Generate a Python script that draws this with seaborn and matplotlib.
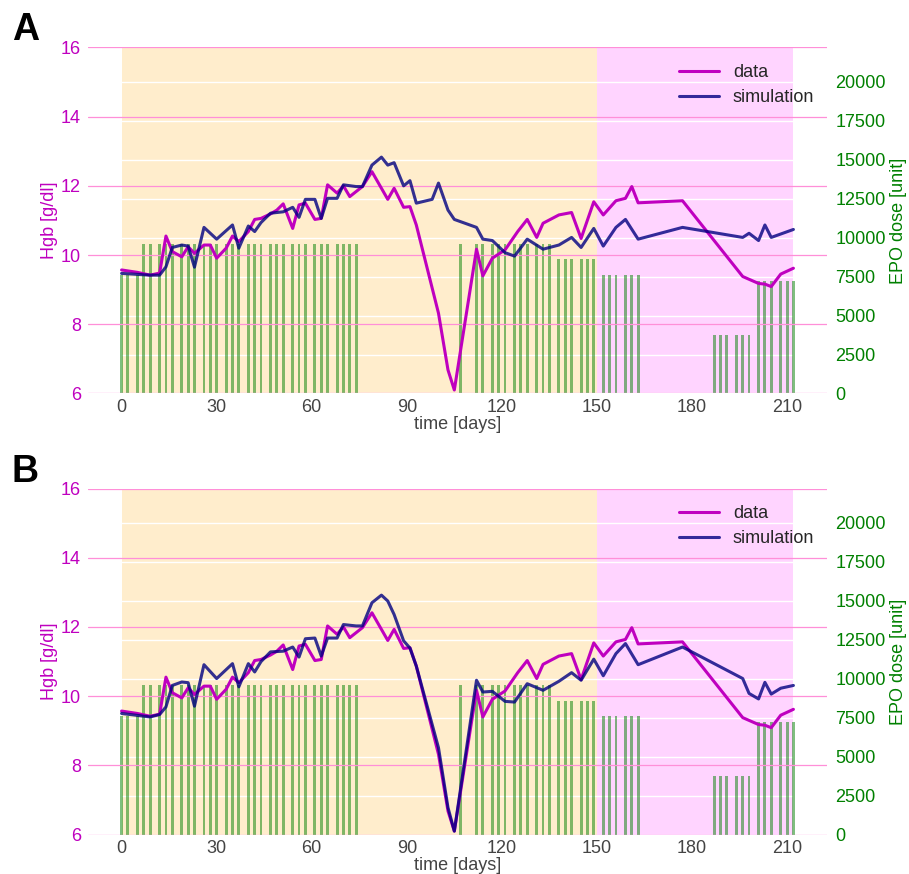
import matplotlib
matplotlib.use("Agg")
import matplotlib.pyplot as plt
import seaborn as sns
import pandas as pd

# Measured hemoglobin (g/dl) by day
data_days = [0, 5, 9, 12, 14, 16, 19, 21, 23, 26, 28, 30, 33, 35, 37, 40, 42, 44, 47, 49,
             51, 54, 56, 58, 61, 63, 65, 68, 70, 72, 76, 79, 84, 86, 89, 91, 93, 100, 103,
             105, 112, 114, 117, 121, 125, 128, 131, 133, 138, 142, 145, 149, 152, 156, 159,
             161, 163, 177, 196, 201, 203, 205, 208, 212]
data_hgb = [9.57, 9.50, 9.42, 9.48, 10.55, 10.10, 9.95, 10.24, 10.05, 10.29, 10.29, 9.91,
            10.20, 10.55, 10.39, 10.68, 11.03, 11.06, 11.19, 11.30, 11.48, 10.77, 11.45,
            11.50, 11.03, 11.06, 12.03, 11.79, 12.00, 11.69, 11.98, 12.41, 11.61, 11.93,
            11.38, 11.40, 10.87, 8.32, 6.68, 6.10, 10.17, 9.40, 9.91, 10.15, 10.68, 11.03,
            10.51, 10.92, 11.16, 11.23, 10.48, 11.54, 11.16, 11.57, 11.64, 11.98, 11.51,
            11.57, 9.38, 9.18, 9.16, 9.09, 9.45, 9.62]

# Simulated hemoglobin, model A
sim_a_days = [0, 9, 12, 14, 16, 19, 21, 23, 26, 30, 35, 37, 40, 42, 44, 47, 51, 54, 56, 58,
              61, 63, 65, 68, 70, 74, 76, 79, 82, 84, 86, 89, 91, 93, 98, 100, 103, 105, 112,
              114, 117, 121, 124, 128, 133, 138, 142, 145, 149, 152, 156, 159, 163, 177, 196,
              198, 201, 203, 205, 212]
sim_a_hgb = [9.47, 9.42, 9.42, 9.66, 10.22, 10.29, 10.26, 9.65, 10.80, 10.46, 10.87, 10.20,
             10.84, 10.68, 10.94, 11.21, 11.25, 11.38, 11.09, 11.61, 11.61, 11.06, 11.64,
             11.64, 12.03, 11.98, 11.98, 12.60, 12.83, 12.60, 12.67, 12.00, 12.15, 11.50,
             11.61, 12.08, 11.30, 11.03, 10.80, 10.46, 10.42, 10.07, 9.97, 10.46, 10.17,
             10.29, 10.51, 10.22, 10.77, 10.26, 10.80, 11.03, 10.46, 10.80, 10.51, 10.63,
             10.42, 10.87, 10.51, 10.74]

# Simulated hemoglobin, model B
sim_b_days = [0, 9, 12, 14, 16, 19, 21, 23, 26, 30, 35, 37, 40, 42, 44, 47, 51, 54, 56, 58,
              61, 63, 65, 68, 70, 74, 76, 79, 82, 84, 86, 89, 91, 93, 100, 103, 105, 112,
              114, 117, 121, 124, 128, 133, 138, 142, 145, 149, 152, 156, 159, 163, 177, 196,
              198, 201, 203, 205, 208, 212]
sim_b_hgb = [9.50, 9.40, 9.47, 9.69, 10.31, 10.41, 10.39, 9.71, 10.91, 10.51, 10.94, 10.27,
             10.94, 10.70, 11.00, 11.28, 11.30, 11.42, 11.13, 11.66, 11.68, 11.16, 11.68,
             11.68, 12.07, 12.03, 12.03, 12.70, 12.92, 12.75, 12.36, 11.60, 11.39, 10.87,
             8.51, 6.78, 6.10, 10.46, 10.12, 10.14, 9.85, 9.83, 10.36, 10.17, 10.43, 10.68,
             10.46, 11.07, 10.59, 11.23, 11.52, 10.91, 11.42, 10.51, 10.08, 9.92, 10.40,
             10.06, 10.23, 10.31]

# EPO doses (units) by administration day
dose_days = [0, 2, 5, 7, 9, 12, 14, 16, 19, 21, 23, 26, 28, 30, 33, 35, 37, 40, 42, 44, 47,
             49, 51, 54, 56, 58, 61, 63, 65, 68, 70, 72, 74,
             107, 112, 114, 117, 119, 121, 124, 126, 128, 131, 133, 135,
             138, 140, 142, 145, 147, 149,
             152, 154, 156, 159, 161, 163,
             187, 189, 191, 194, 196, 198,
             201, 203, 205, 208, 210, 212]
dose_units = [7600, 7600, 7600] + [9600] * 30 + [9600] * 12 + [8600] * 6 + \
             [7600] * 6 + [3750] * 6 + [7200] * 6

# Treatment periods
period1 = (0, 150)
period2 = (150, 212)

x_ticks = [0, 30, 60, 90, 120, 150, 180, 210]
hgb_ticks = [6, 8, 10, 12, 14, 16]
epo_ticks = [0, 2500, 5000, 7500, 10000, 12500, 15000, 17500, 20000]

sns.set_theme(style="white")
plt.rcParams["font.family"] = ["Liberation Sans", "DejaVu Sans"]

MAG = "#bf00bf"
SIM = "navy"
GRN = "green"
TXT = "#444444"
FS = 13

fig = plt.figure(figsize=(9.09, 8.74), dpi=100)

panels = [
    ("A", [0.0968, 0.5498, 0.813, 0.3959], sim_a_days, sim_a_hgb),
    ("B", [0.0968, 0.0451, 0.813, 0.3959], sim_b_days, sim_b_hgb),
]

df_data = pd.DataFrame({"day": data_days, "hgb": data_hgb})
df_dose = pd.DataFrame({"day": dose_days, "dose": dose_units})

for letter, rect, sdays, shgb in panels:
    ax2 = fig.add_axes(rect)             # EPO dose axis (drawn underneath)
    ax = fig.add_axes(rect, sharex=ax2)  # Hgb axis on top
    ax.patch.set_visible(False)

    ax2.set_facecolor("white")
    ax2.axvspan(*period1, color="orange", alpha=0.2, lw=0, zorder=0)
    ax2.axvspan(*period2, color="magenta", alpha=0.17, lw=0, zorder=0)
    ax2.bar(df_dose["day"], df_dose["dose"], width=0.9, color=GRN, alpha=0.5,
            zorder=2, linewidth=0)
    ax2.yaxis.tick_right()
    ax2.yaxis.set_label_position("right")
    ax2.set_ylim(0, 22200)
    ax2.set_yticks(epo_ticks)
    ax2.grid(axis="y", color="white", lw=1.0, zorder=1)
    ax2.set_axisbelow(True)
    ax2.tick_params(axis="y", colors=GRN, labelsize=FS, length=0, pad=6)
    ax2.set_ylabel("EPO dose [unit]", color=GRN, fontsize=FS, labelpad=3)

    df_sim = pd.DataFrame({"day": sdays, "hgb": shgb})
    sns.lineplot(data=df_data, x="day", y="hgb", ax=ax, color=MAG, lw=2.2,
                 label="data", zorder=4)
    sns.lineplot(data=df_sim, x="day", y="hgb", ax=ax, color=SIM, lw=2.2,
                 alpha=0.8, label="simulation", zorder=5)
    ax.set_xlim(-10.6, 222.6)
    ax.set_ylim(6, 16)
    ax.set_yticks(hgb_ticks)
    ax.set_xticks(x_ticks)
    ax.grid(axis="y", color="#ff8fd8", lw=0.9)
    ax.tick_params(axis="y", colors=MAG, labelsize=FS, length=0, pad=5)
    ax.tick_params(axis="x", colors=TXT, labelsize=FS, length=0, pad=4)
    ax.set_ylabel("Hgb [g/dl]", color=MAG, fontsize=FS, labelpad=2)
    ax.set_xlabel("time [days]", color=TXT, fontsize=FS, labelpad=0)
    ax2.tick_params(axis="x", labelbottom=False, length=0)
    ax2.set_xlabel("")

    for a in (ax, ax2):
        for s in a.spines.values():
            s.set_visible(False)

    ax.legend(loc="upper right", frameon=False, fontsize=FS,
              handlelength=2.2, borderaxespad=0.3, labelspacing=0.45,
              bbox_to_anchor=(1.0, 0.988))

    fig.text(0.013, rect[1] + rect[3] + 0.008, letter, fontsize=27,
             fontweight="bold", color="black")

fig.savefig("out.png", dpi=100)
